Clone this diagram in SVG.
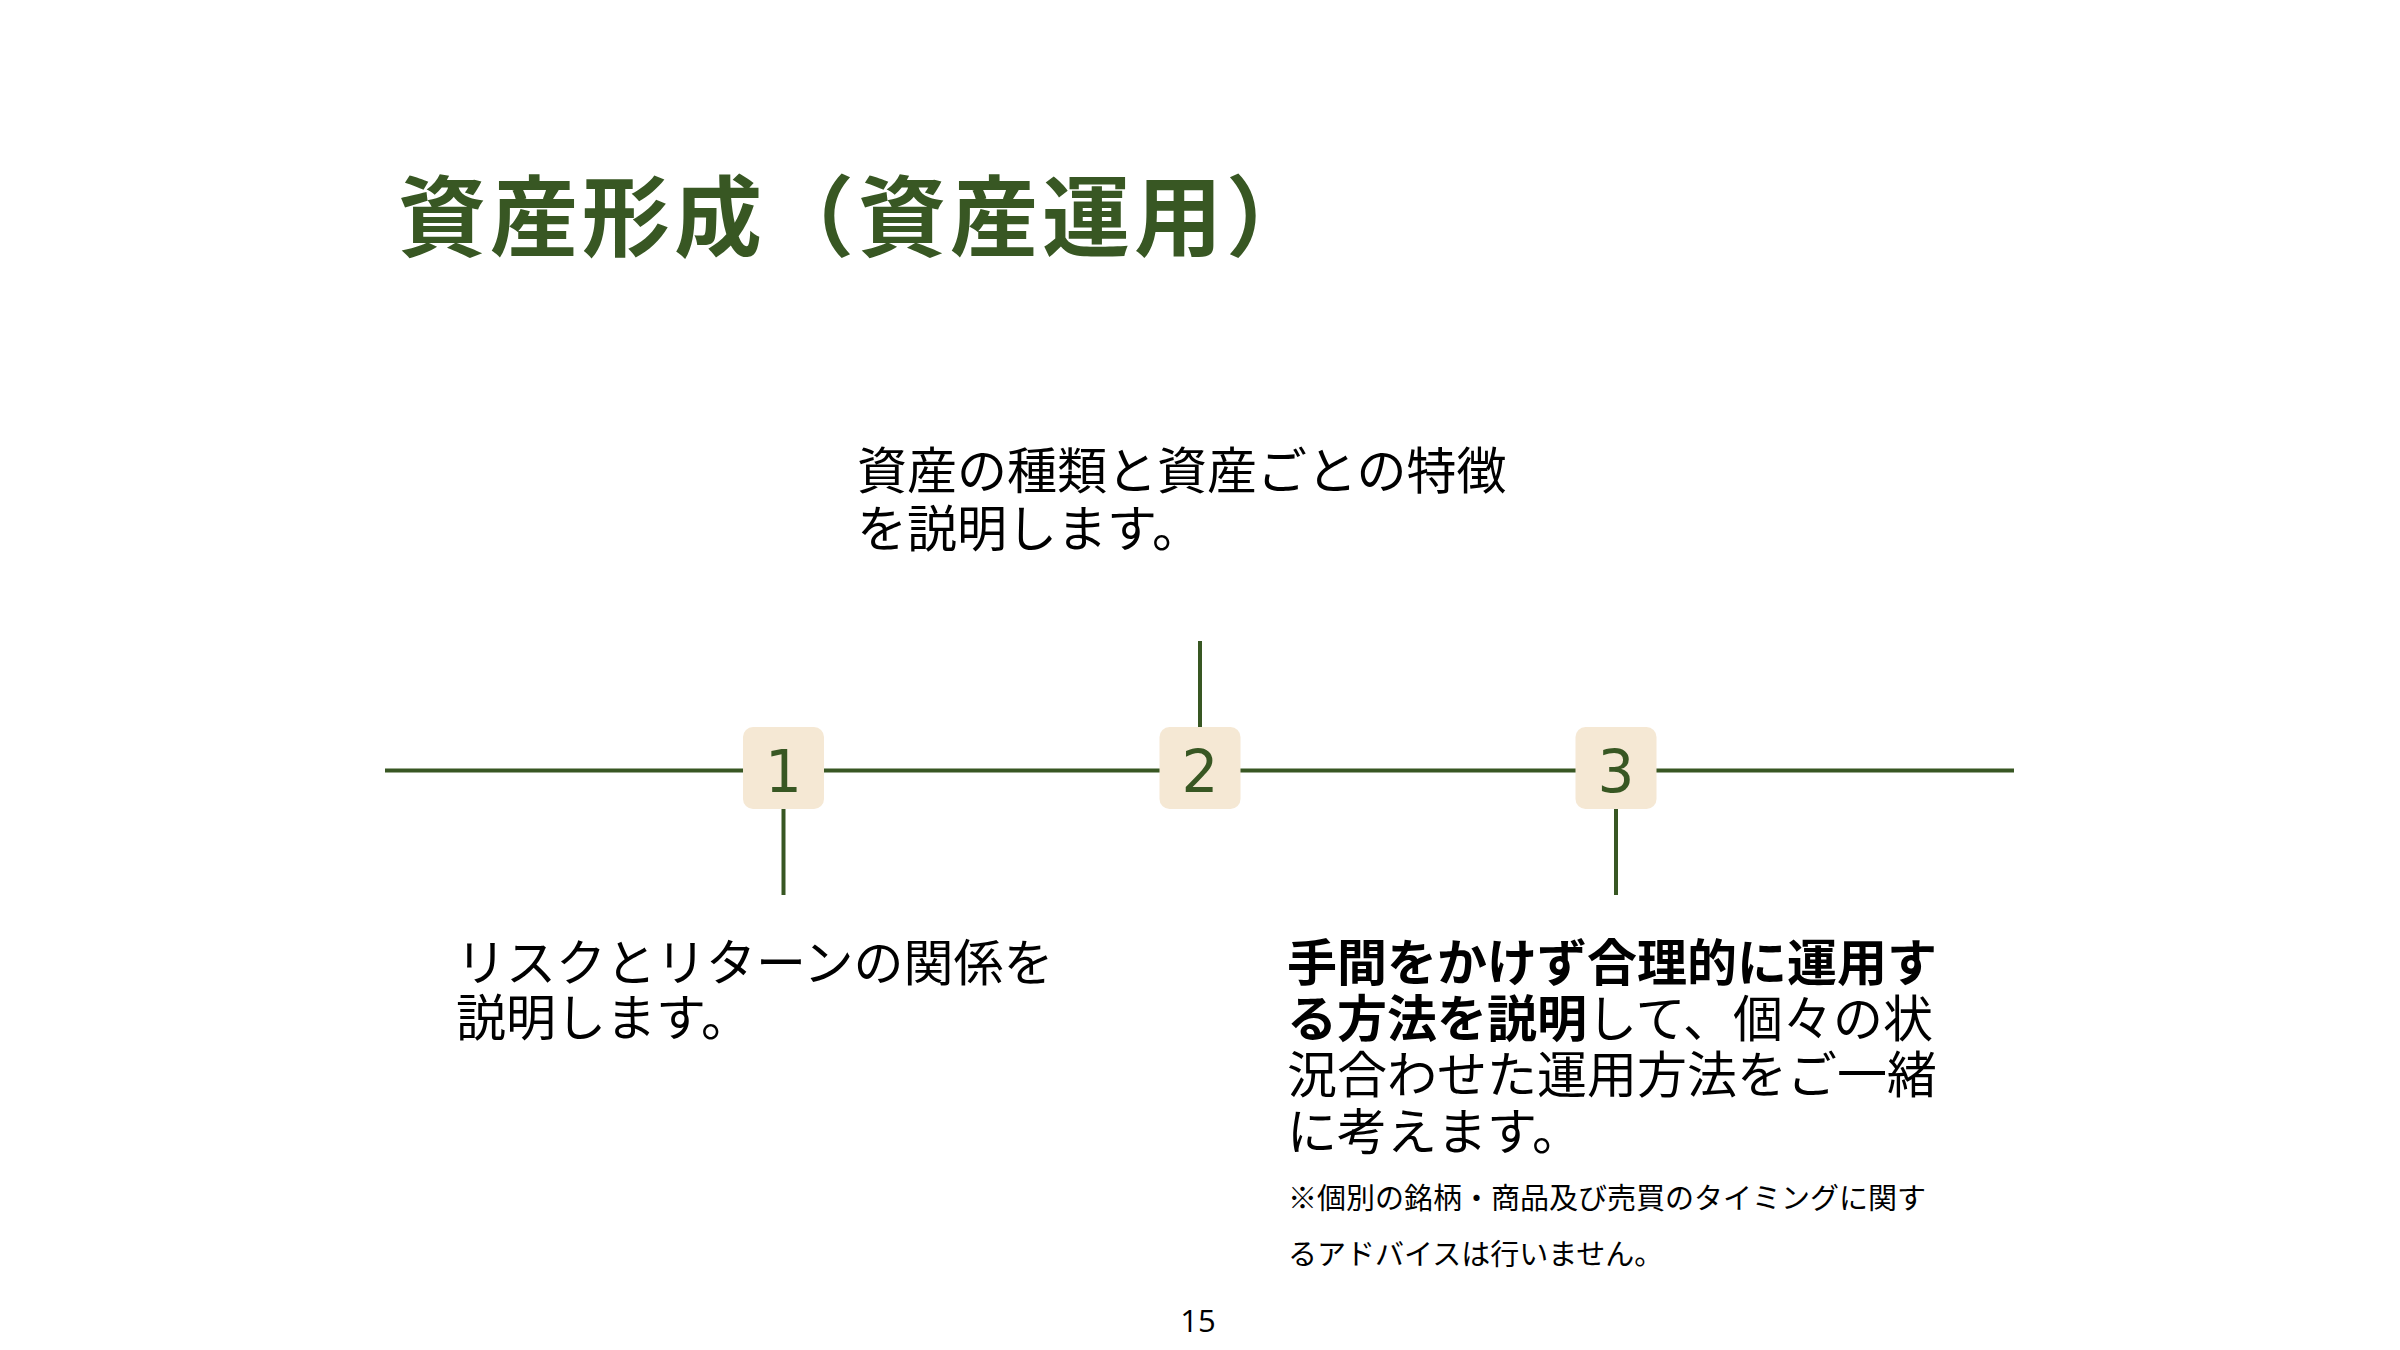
<svg xmlns="http://www.w3.org/2000/svg" width="2400" height="1350" viewBox="0 0 2400 1350">
<style>
.title{font-family:"Noto Sans CJK JP","Noto Sans",sans-serif;font-weight:700;font-size:88px;letter-spacing:4px;fill:#385723}
.body{font-family:"Noto Sans CJK JP","Noto Sans",sans-serif;font-size:50px;fill:#000}
.b{font-weight:700}
.note{font-family:"Noto Sans CJK JP","Noto Sans",sans-serif;font-size:29px;fill:#000}
.num{font-family:"DejaVu Sans",sans-serif;font-size:58px;fill:#385723;text-anchor:middle}
.box{fill:#F5E8D4}
.ln{stroke:#385723;stroke-width:4;fill:none}
.pg{font-family:"Open Sans","Liberation Sans",sans-serif;font-size:31px;fill:#000;text-anchor:middle}
</style>
<rect width="2400" height="1350" fill="#fff"/>
<text class="title" x="398" y="249">資産形成（資産運用）</text>
<g id="connectors">
<line class="ln" x1="385" y1="770.5" x2="2014" y2="770.5"/>
<line class="ln" x1="783.5" y1="809" x2="783.5" y2="895"/>
<line class="ln" x1="1200" y1="641" x2="1200" y2="727"/>
<line class="ln" x1="1616" y1="809" x2="1616" y2="895"/>
</g>
<g id="node1">
<rect class="box" x="743" y="727" width="81" height="82" rx="10"/>
<text class="num" x="783.5" y="792">1</text>
</g>
<g id="node2">
<rect class="box" x="1159.5" y="727" width="81" height="82" rx="10"/>
<text class="num" x="1200" y="792">2</text>
</g>
<g id="node3">
<rect class="box" x="1575.5" y="727" width="81" height="82" rx="10"/>
<text class="num" x="1616" y="792">3</text>
</g>
<g id="text2">
<text class="body" x="857" y="489">資産の種類と資産ごとの特徴<tspan x="857" dy="58">を説明します。</tspan></text>
</g>
<g id="text1">
<text class="body" x="456" y="981">リスクとリターンの関係を<tspan x="456" dy="55">説明します。</tspan></text>
</g>
<g id="text3">
<text class="body" x="1287" y="981"><tspan class="b">手間をかけず合理的に運用す</tspan><tspan x="1287" dy="56" class="b">る方法を説明</tspan><tspan>して、個々の状</tspan><tspan x="1287" dy="56">況合わせた運用方法をご一緒</tspan><tspan x="1287" dy="57">に考えます。</tspan></text>
<text class="note" x="1288" y="1209">※個別の銘柄・商品及び売買のタイミングに関す<tspan x="1288" dy="56">るアドバイスは行いません。</tspan></text>
</g>
<text class="pg" x="1198" y="1332">15</text>
</svg>
